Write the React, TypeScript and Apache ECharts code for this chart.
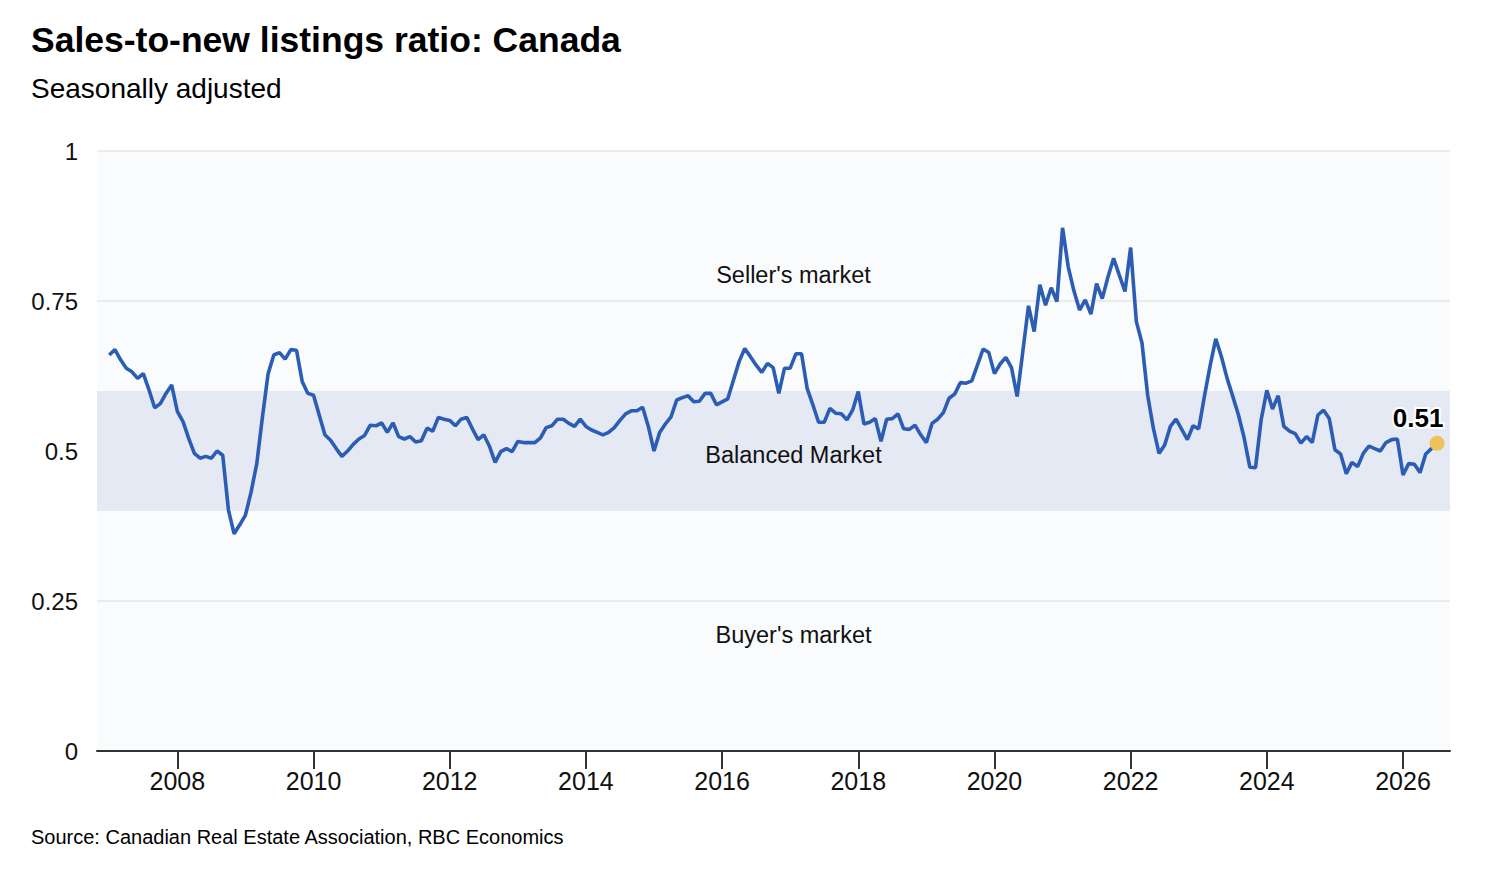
import React, { useEffect, useRef } from "react";
import * as echarts from "echarts";

const START_YEAR = 2007;
const ratio2007 = [0.66, 0.669, 0.652, 0.638, 0.632, 0.621, 0.629, 0.602, 0.572, 0.579, 0.596, 0.61];
const ratio2008 = [0.566, 0.549, 0.521, 0.496, 0.488, 0.491, 0.488, 0.5, 0.493, 0.402, 0.362, 0.377];
const ratio2009 = [0.393, 0.432, 0.479, 0.557, 0.629, 0.66, 0.664, 0.653, 0.669, 0.668, 0.616, 0.596];
const ratio2010 = [0.593, 0.56, 0.527, 0.518, 0.504, 0.491, 0.5, 0.511, 0.52, 0.526, 0.543, 0.542];
const ratio2011 = [0.547, 0.531, 0.547, 0.524, 0.52, 0.524, 0.515, 0.517, 0.538, 0.533, 0.556, 0.553];
const ratio2012 = [0.551, 0.542, 0.553, 0.556, 0.537, 0.519, 0.527, 0.508, 0.481, 0.499, 0.504, 0.499];
const ratio2013 = [0.516, 0.514, 0.514, 0.514, 0.522, 0.539, 0.542, 0.553, 0.553, 0.546, 0.541, 0.553];
const ratio2014 = [0.541, 0.535, 0.531, 0.527, 0.531, 0.539, 0.551, 0.562, 0.567, 0.567, 0.573, 0.541];
const ratio2015 = [0.5, 0.531, 0.545, 0.557, 0.585, 0.589, 0.592, 0.582, 0.583, 0.596, 0.596, 0.577];
const ratio2016 = [0.582, 0.587, 0.618, 0.649, 0.671, 0.657, 0.643, 0.631, 0.646, 0.639, 0.596, 0.638];
const ratio2017 = [0.638, 0.662, 0.662, 0.604, 0.577, 0.548, 0.548, 0.571, 0.563, 0.562, 0.552, 0.568];
const ratio2018 = [0.599, 0.545, 0.548, 0.554, 0.516, 0.553, 0.554, 0.562, 0.537, 0.536, 0.543, 0.527];
const ratio2019 = [0.514, 0.546, 0.553, 0.564, 0.588, 0.595, 0.614, 0.613, 0.617, 0.643, 0.67, 0.664];
const ratio2020 = [0.629, 0.645, 0.656, 0.639, 0.591, 0.666, 0.742, 0.699, 0.777, 0.743, 0.772, 0.749];
const ratio2021 = [0.872, 0.807, 0.767, 0.735, 0.752, 0.728, 0.779, 0.754, 0.79, 0.821, 0.793, 0.766];
const ratio2022 = [0.839, 0.716, 0.68, 0.593, 0.538, 0.496, 0.51, 0.541, 0.553, 0.536, 0.519, 0.542];
const ratio2023 = [0.537, 0.591, 0.642, 0.687, 0.657, 0.621, 0.591, 0.56, 0.522, 0.473, 0.472, 0.552];
const ratio2024 = [0.601, 0.57, 0.592, 0.541, 0.533, 0.529, 0.513, 0.524, 0.514, 0.56, 0.568, 0.554];
const ratio2025 = [0.502, 0.495, 0.462, 0.481, 0.474, 0.496, 0.508, 0.504, 0.5, 0.514, 0.519, 0.52];
const ratio2026 = [0.46, 0.479, 0.478, 0.464, 0.495, 0.504, 0.513];

const yearTicks = [2008, 2010, 2012, 2014, 2016, 2018, 2020, 2022, 2024, 2026];
const zones = [
  { name: "Buyer's market", from: 0, to: 0.4 },
  { name: "Balanced Market", from: 0.4, to: 0.6 },
  { name: "Seller's market", from: 0.6, to: 1 },
];

const FONT = "'Liberation Sans', Arial, Helvetica, sans-serif";

export default function App() {
  const ref = useRef<HTMLDivElement>(null);

  useEffect(() => {
    if (!ref.current) return;
    const chart = echarts.init(ref.current, undefined, { renderer: "svg" });

    const all = [
      ...ratio2007, ...ratio2008, ...ratio2009, ...ratio2010, ...ratio2011,
      ...ratio2012, ...ratio2013, ...ratio2014, ...ratio2015, ...ratio2016,
      ...ratio2017, ...ratio2018, ...ratio2019, ...ratio2020, ...ratio2021,
      ...ratio2022, ...ratio2023, ...ratio2024, ...ratio2025, ...ratio2026,
    ];
    const data = all.map((v, i) => [START_YEAR + i / 12, v]);
    const last = data[data.length - 1];

    const option: any = {
      animation: false,
      backgroundColor: "#ffffff",
      textStyle: { fontFamily: FONT },
      title: [
        {
          text: "Sales-to-new listings ratio: Canada",
          left: 18,
          top: 9,
          textStyle: { fontFamily: FONT, fontSize: 35.5, fontWeight: "bold", color: "#000" },
        },
        {
          text: "Seasonally adjusted",
          left: 18,
          top: 61,
          textStyle: { fontFamily: FONT, fontSize: 28, fontWeight: "normal", color: "#000" },
        },
        {
          text: "Source: Canadian Real Estate Association, RBC Economics",
          left: 18,
          top: 814,
          textStyle: { fontFamily: FONT, fontSize: 20, fontWeight: "normal", color: "#000" },
        },
      ],
      grid: {
        left: 89,
        right: 28,
        top: 143,
        bottom: 117,
        show: true,
        backgroundColor: "#fafbfd",
        borderWidth: 0,
      },
      xAxis: {
        type: "value",
        min: 2006.82,
        max: 2026.69,
        splitLine: { show: false },
        axisLine: { show: true, onZero: false, lineStyle: { color: "#333", width: 2 } },
        axisTick: {
          show: true,
          customValues: yearTicks,
          length: 18,
          lineStyle: { color: "#333", width: 2 },
        },
        axisLabel: {
          customValues: yearTicks,
          formatter: (v: number) => String(Math.round(v)),
          fontFamily: FONT,
          fontSize: 25,
          color: "#111",
          margin: 17,
        },
      },
      yAxis: {
        type: "value",
        min: 0,
        max: 1,
        interval: 0.25,
        axisLine: { show: false },
        axisTick: { show: false },
        splitLine: { show: true, lineStyle: { color: "#e6e6e8", width: 1.5 } },
        axisLabel: {
          fontFamily: FONT,
          fontSize: 24,
          color: "#111",
          margin: 19,
          formatter: (v: number) => String(v),
        },
      },
      series: [
        {
          type: "line",
          data: [],
          z: 1,
          silent: true,
          markArea: {
            silent: true,
            data: zones.map((zn) => [
              {
                yAxis: zn.from,
                name: zn.name,
                itemStyle: {
                  color: zn.name === "Balanced Market" ? "#e5e9f3" : "rgba(0,0,0,0)",
                },
              },
              { yAxis: zn.to },
            ]),
            label: {
              show: true,
              position: "inside",
              offset: [20, 4],
              fontFamily: FONT,
              fontSize: 23.5,
              color: "#111",
            },
          },
        },
        {
          type: "line",
          data,
          z: 3,
          showSymbol: false,
          symbol: "none",
          lineStyle: { color: "#2c5db5", width: 3.6 },
        },
        {
          type: "scatter",
          z: 4,
          data: [last],
          symbolSize: 15,
          itemStyle: { color: "#efc15a", opacity: 1 },
          label: {
            show: true,
            position: "top",
            offset: [-19, 0],
            formatter: (p: any) => p.value[1].toFixed(2),
            fontFamily: FONT,
            fontSize: 26,
            fontWeight: "bold",
            color: "#000",
            textBorderColor: "#fff",
            textBorderWidth: 4,
          },
        },
      ],
    };

    chart.setOption(option);
    return () => chart.dispose();
  }, []);

  return <div ref={ref} style={{ width: 1470, height: 860 }} />;
}
